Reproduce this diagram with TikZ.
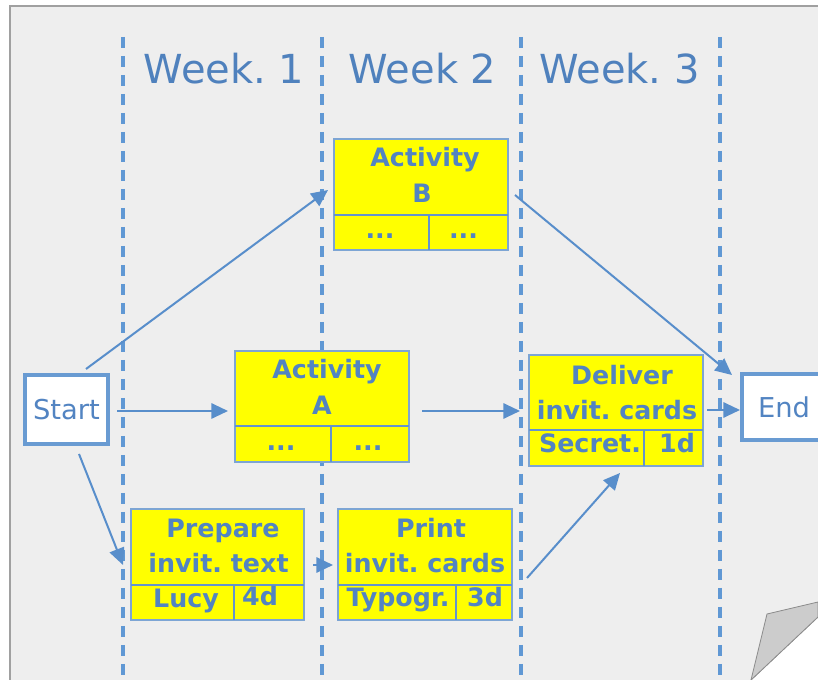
\documentclass[tikz,border=0pt]{standalone}
\usepackage{fontspec}
\setmainfont{DejaVu Sans}
\usetikzlibrary{calc,arrows.meta}
\frenchspacing
\definecolor{pagegray}{RGB}{238,238,238}
\definecolor{pageline}{RGB}{160,160,160}
\definecolor{curlgray}{RGB}{204,204,204}
\definecolor{curlline}{RGB}{140,140,140}
\definecolor{txtblue}{RGB}{82,132,194}
\definecolor{weekblue}{RGB}{79,129,189}
\definecolor{arrblue}{RGB}{88,142,203}
\definecolor{dashblue}{RGB}{96,152,212}
\definecolor{boxline}{RGB}{125,165,212}
\definecolor{divblue}{RGB}{100,148,205}
\definecolor{termline}{RGB}{105,155,210}
\definecolor{boxyellow}{RGB}{255,255,0}
\tikzset{
  actbox/.style={draw=boxline, line width=0.8pt, fill=boxyellow, inner sep=0pt, outer sep=0pt},
  divline/.style={draw=divblue, line width=1.5pt},
  termbox/.style={draw=termline, line width=3pt, fill=white, inner sep=0pt, outer sep=0pt,
     text=txtblue, font=\fontsize{20.5pt}{24pt}\selectfont},
  btxt/.style={text=txtblue, font=\bfseries\fontsize{19pt}{24pt}\selectfont, inner sep=0pt, anchor=base},
  weektxt/.style={text=weekblue, font=\fontsize{30pt}{36pt}\selectfont, inner sep=0pt, anchor=base},
  arr/.style={draw=arrblue, line width=1.5pt, -{Triangle[length=12.5pt,width=11.5pt]}},
  dashln/.style={draw=dashblue, line width=2.3pt, dash pattern=on 8.25pt off 6pt},
}
\begin{document}
\begin{tikzpicture}[x=0.75pt,y=-0.75pt]
\useasboundingbox (0,0) rectangle (818,680);
% page
\fill[pagegray] (10,6) -- (818,6) -- (818,617) -- (751,680) -- (10,680) -- cycle;
\draw[pageline, line width=1pt] (10,680) -- (10,6) -- (818,6);
\draw[curlline, line width=0.6pt] (751,680) -- (818,617);
\filldraw[fill=curlgray, draw=curlline, line width=0.6pt] (751,680) -- (767,614) -- (818,602) -- (818,617) -- cycle;
% week separators
\foreach \x in {123,322,521,720} \draw[dashln] (\x,37) -- (\x,680);
% week labels
\node[weektxt] (w1) at (224,84) {Week. 1};
\node[weektxt] (w2) at (422.5,84) {Week 2};
\node[weektxt] (w3) at (619.5,84) {Week. 3};
% boxes
\node[termbox, minimum width=83*0.75pt, minimum height=69*0.75pt] (start) at (66.5,409.5) {Start};
\node[termbox, minimum width=84*0.75pt, minimum height=66*0.75pt] (end) at (784,407) {End};
\node[actbox, minimum width=174*0.75pt, minimum height=111*0.75pt] (B) at (421,194.5) {};
\node[actbox, minimum width=174*0.75pt, minimum height=111*0.75pt] (A) at (322,406.5) {};
\node[actbox, minimum width=174*0.75pt, minimum height=111*0.75pt] (D) at (616,410.5) {};
\node[actbox, minimum width=173*0.75pt, minimum height=111*0.75pt] (P) at (217.5,564.5) {};
\node[actbox, minimum width=174*0.75pt, minimum height=111*0.75pt] (R) at (425,564.5) {};
% dividers
\draw[divline] ($(B.south west)+(0,-35)$) -- ($(B.south east)+(0,-35)$);
\draw[divline] ($(B.south west)+(95,0)$) -- ($(B.south west)+(95,-35)$);
\draw[divline] ($(A.south west)+(0,-36)$) -- ($(A.south east)+(0,-36)$);
\draw[divline] ($(A.south west)+(96,0)$) -- ($(A.south west)+(96,-36)$);
\draw[divline] ($(D.south west)+(0,-36)$) -- ($(D.south east)+(0,-36)$);
\draw[divline] ($(D.south west)+(115,0)$) -- ($(D.south west)+(115,-36)$);
\draw[divline] ($(P.south west)+(0,-35)$) -- ($(P.south east)+(0,-35)$);
\draw[divline] ($(P.south west)+(103,0)$) -- ($(P.south west)+(103,-35)$);
\draw[divline] ($(R.south west)+(0,-35)$) -- ($(R.south east)+(0,-35)$);
\draw[divline] ($(R.south west)+(118,0)$) -- ($(R.south west)+(118,-35)$);
% box texts
\node[btxt] (bt1) at (425,167) {Activity};
\node[btxt] (bt2) at (422,203) {B};
\node[btxt] (bt3) at (380,239) {...};
\node[btxt] (bt4) at (463.5,239) {...};
\node[btxt] (at1) at (327,379) {Activity};
\node[btxt] (at2) at (322,415) {A};
\node[btxt] (at3) at (281,451) {...};
\node[btxt] (at4) at (368,451) {...};
\node[btxt] (dt1) at (622,385) {Deliver};
\node[btxt] (dt2) at (617,420) {invit. cards};
\node[btxt] (dt3) at (590,453) {Secret.};
\node[btxt] (dt4) at (677,453) {1d};
\node[btxt] (pt1) at (223,538) {Prepare};
\node[btxt] (pt2) at (218.5,573) {invit. text};
\node[btxt] (pt3) at (186,608) {Lucy};
\node[btxt] (pt4) at (260,606) {4d};
\node[btxt] (rt1) at (431,538) {Print};
\node[btxt] (rt2) at (425,573) {invit. cards};
\node[btxt] (rt3) at (398,607) {Typogr.};
\node[btxt] (rt4) at (485,607) {3d};
% connectors
\draw[arr] ($(start.north)+(19.5,-6)$) -- ($(B.west)+(-6,-4.5)$);
\draw[arr] ($(start.east)+(9,1.5)$) -- ($(A.west)+(-7,4.5)$);
\draw[arr] ($(start.south)+(12.5,10)$) -- ($(P.west)+(-8,0.5)$);
\draw[arr] ($(A.east)+(13,4.5)$) -- ($(D.west)+(-9,0.5)$);
\draw[arr] ($(D.east)+(4,-0.5)$) -- ($(end.west)+(-2,3)$);
\draw[arr] ($(B.east)+(7,0.5)$) -- ($(end.north west)+(-10,1)$);
\draw[arr] ($(P.east)+(9,0.5)$) -- ($(R.west)+(-5,0.5)$);
\draw[arr] ($(R.east)+(15,13.5)$) -- ($(D.south)+(4,7)$);
\end{tikzpicture}
\end{document}
